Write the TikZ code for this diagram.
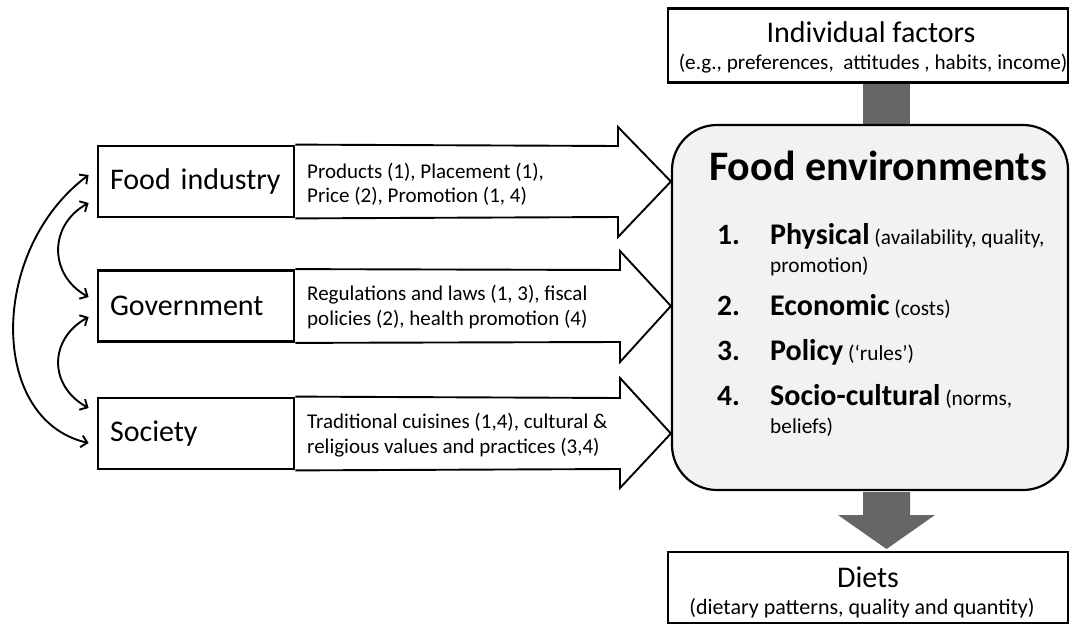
\documentclass[tikz,border=0pt]{standalone}
\usepackage{fontspec}
\setmainfont{Carlito}
\usetikzlibrary{arrows.meta}
\definecolor{arrgray}{RGB}{102,102,102}
\definecolor{envfill}{RGB}{242,242,242}
\newcommand{\fs}[1]{\fontsize{#1}{#1}\selectfont}
\tikzset{
  x=1pt, y=1pt,
  lblbox/.style={draw, line width=2.8pt, minimum width=196pt, minimum height=71pt,
    inner xsep=12pt, text width=172pt, align=left, font=\fs{30}},
  blockarrow/.style={draw, line width=1.9pt, line join=miter},
  desc/.style={anchor=base west, inner sep=0pt, font=\fs{21}, align=left},
  topbox/.style={draw, line width=2.8pt, minimum width=400pt, minimum height=74pt, inner sep=0pt},
  biarrow/.style={line width=1.9pt, {Straight Barb[length=6pt,width=12pt]}-{Straight Barb[length=6pt,width=12pt]}},
  grayshape/.style={fill=arrgray, draw=none},
  itemnum/.style={anchor=base west, inner sep=0pt, font=\fs{29.5}\bfseries},
  itemtxt/.style={anchor=base west, inner sep=0pt, align=left},
}
\begin{document}
\begin{tikzpicture}
\useasboundingbox (0,0) rectangle (1070,-626);

% top and bottom boxes
\node[topbox] (ind) at (868,-45.5) {};
\node[anchor=base, inner sep=0pt, font=\fs{30}] (indt) at (871,-43) {Individual factors};
\node[anchor=base, inner sep=0pt, font=\fs{21.2}] (inds) at (873,-70) {(e.g., preferences,\ \ attitudes , habits, income)};

\node[topbox, minimum height=71pt] (diet) at (868,-587.5) {};
\node[anchor=base, inner sep=0pt, font=\fs{30}] (dt) at (868,-587) {Diets};
\node[anchor=base, inner sep=0pt, font=\fs{22}] (ds) at (862,-614) {(dietary patterns, quality and quantity)};

% gray arrows
\path[grayshape] (863,-84) rectangle (910,-130);
% food environments box
\node[draw, line width=2.2pt, fill=envfill, rounded corners=45pt, minimum width=396pt,
      minimum height=365pt, inner sep=0pt] (fe) at (870,-307.5) {};
\path[grayshape] (863,-492) -- (863,-515) -- (838,-515) -- (886.5,-549) -- (935,-515) -- (910,-515) -- (910,-492) -- cycle;

\node[anchor=base west, inner sep=0pt, font=\fs{42}\bfseries] (fet) at (709,-180) {Food environments};

\node[itemnum] (n1) at (717,-244) {1.};
\node[itemtxt] (i1) at (770,-244) {{\fs{30}\bfseries Physical}{\fs{21.3}\ (availability, quality,}};
\node[itemtxt, font=\fs{21.3}] (i1b) at (770,-272) {promotion)};
\node[itemnum] (n2) at (717,-315) {2.};
\node[itemtxt] (i2) at (770,-315) {{\fs{30}\bfseries Economic}{\fs{21.3}\ (costs)}};
\node[itemnum] (n3) at (717,-360) {3.};
\node[itemtxt] (i3) at (770,-360) {{\fs{30}\bfseries Policy}{\fs{21.3}\ (‘rules’)}};
\node[itemnum] (n4) at (717,-405) {4.};
\node[itemtxt] (i4) at (770,-405) {{\fs{30}\bfseries Socio-cultural}{\fs{21.3}\ (norms,}};
\node[itemtxt, font=\fs{21.3}] (i4b) at (770,-433) {beliefs)};

% left label boxes
\node[lblbox] (fi) at (196,-181.5) {Food industry};
\node[lblbox] (gov) at (196,-306) {Government};
\node[lblbox] (soc) at (196,-433.5) {Society};

% block arrows
\draw[blockarrow] (fi.north east) -- (618,-146) -- (618,-127) -- (fe.west |- fi.east) -- (618,-237) -- (618,-217) -- (fi.south east);
\draw[blockarrow] (gov.north east) -- (620,-270) -- (620,-251) -- (fe.west |- gov.east) -- (620,-362) -- (620,-342) -- (gov.south east);
\draw[blockarrow] (soc.north east) -- (620,-398) -- (620,-378) -- (fe.west |- soc.east) -- (620,-488) -- (620,-469) -- (soc.south east);

\node[desc] (fid) at (307,-178) {Products (1), Placement (1),};
\node[desc] (fid2) at (307,-202) {Price (2), Promotion (1, 4)};
\node[desc] (gd) at (307,-300) {Regulations and laws (1, 3), fiscal};
\node[desc] (gd2) at (307,-325) {policies (2), health promotion (4)};
\node[desc] (sd) at (307,-428) {Traditional cuisines (1,4), cultural \&};
\node[desc] (sd2) at (307,-453) {religious values and practices (3,4)};

% curved double arrows
\draw[biarrow] ([shift={(-8,-21.5)}]fi.west) .. controls +(-40,-22) and +(-40,22) .. ([shift={(-8,9)}]gov.west);
\draw[biarrow] ([shift={(-8,-11)}]gov.west) .. controls +(-40,-22) and +(-40,22) .. ([shift={(-8,25.5)}]soc.west);
\draw[biarrow] ([shift={(-8,6.5)}]fi.west) .. controls +(-100,-75) and +(-100,23) .. ([shift={(-8,-9.5)}]soc.west);
\end{tikzpicture}
\end{document}
